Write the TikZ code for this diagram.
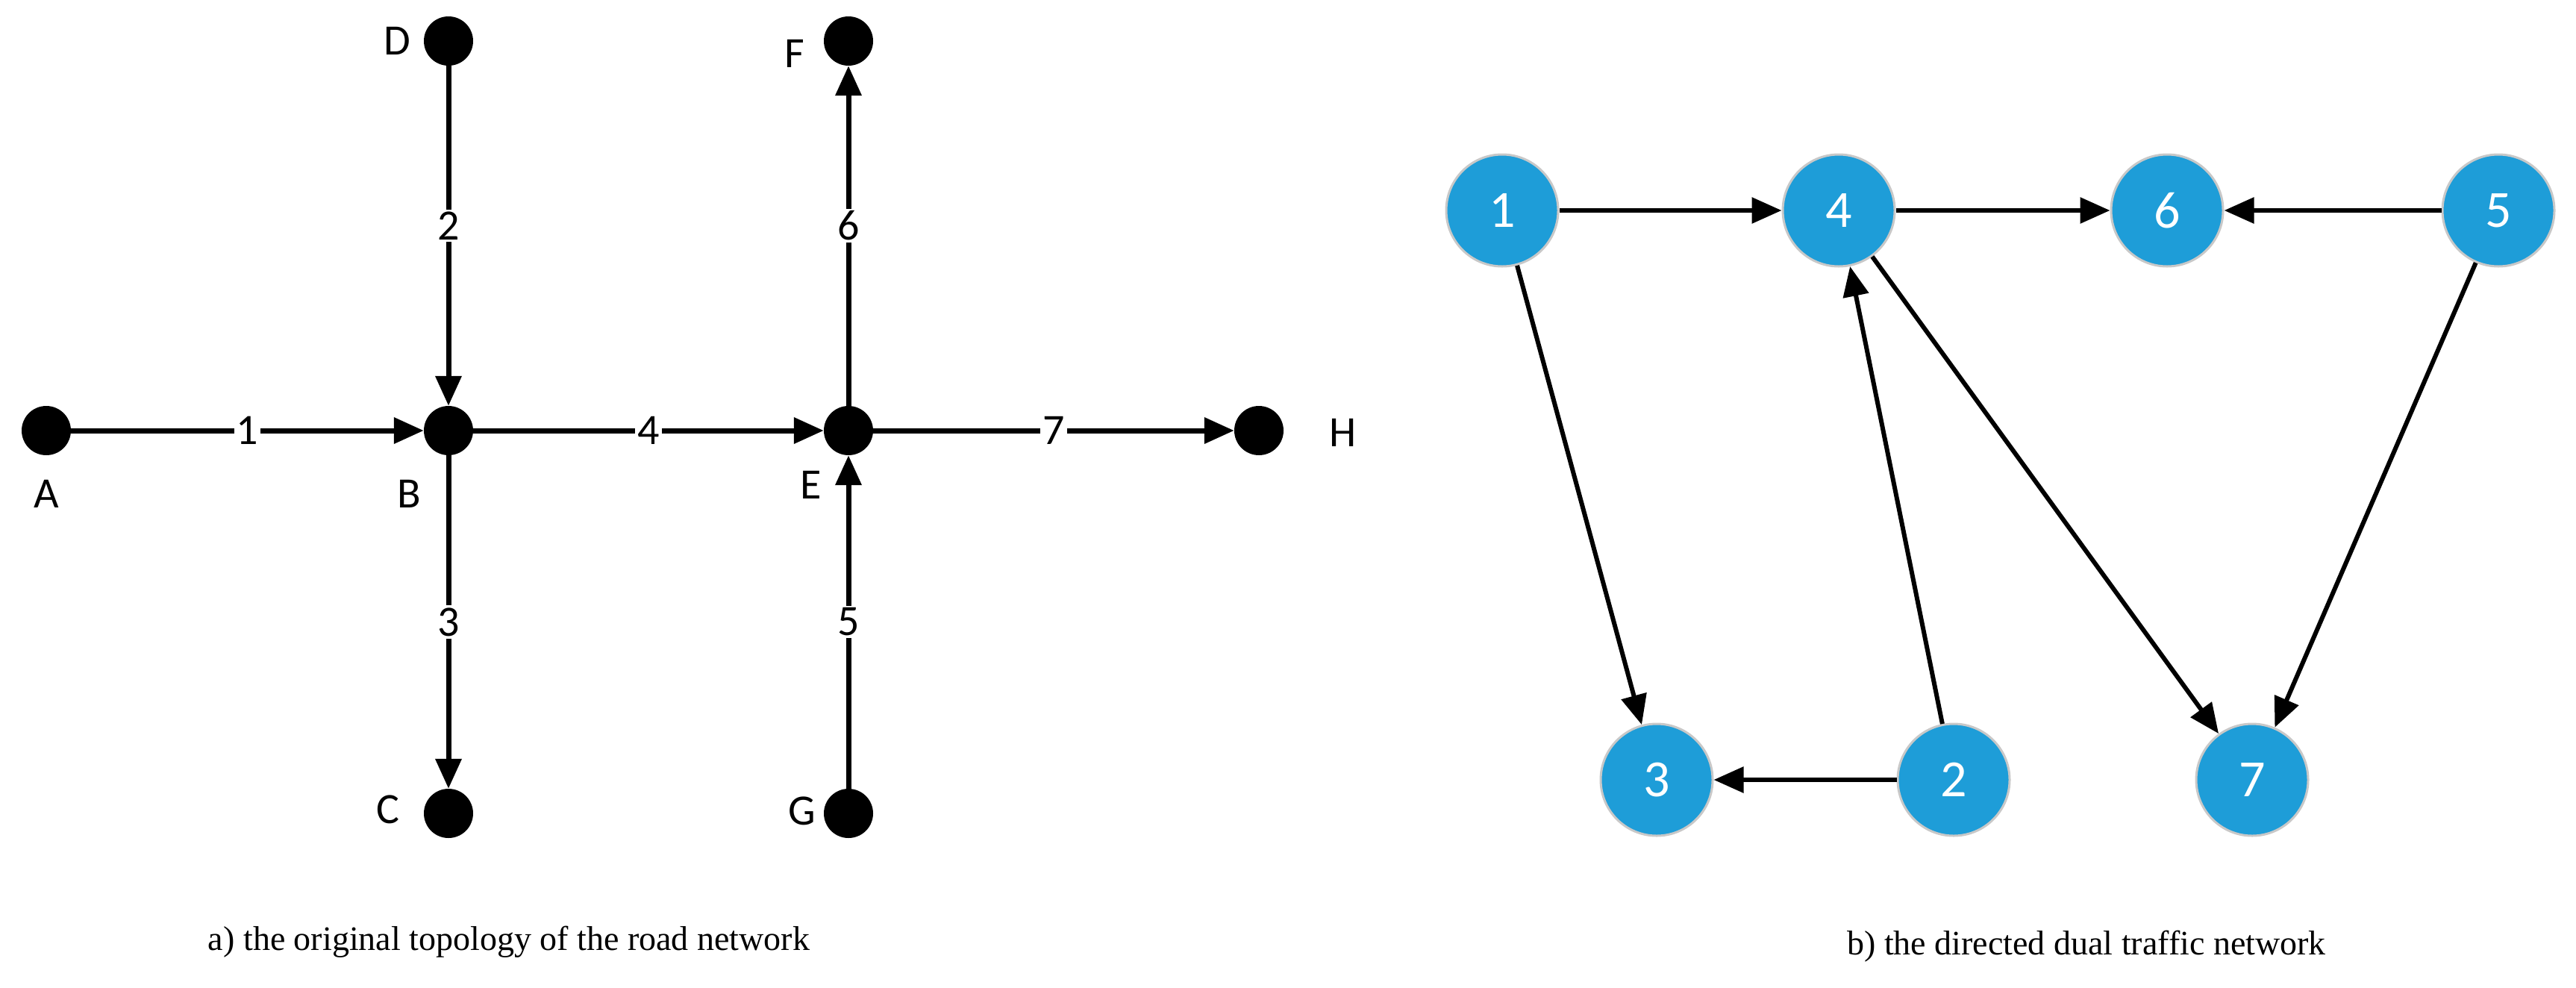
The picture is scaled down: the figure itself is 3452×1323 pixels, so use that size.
\documentclass[tikz,border=0pt]{standalone}
\usepackage{fontspec}
\setmainfont{Liberation Serif}
\newfontfamily\lbl{Carlito}
\usetikzlibrary{arrows.meta}
\begin{document}
\begin{tikzpicture}[x=1pt,y=-1pt,
  dot/.style={circle,fill=black,minimum size=66pt,inner sep=0pt},
  nl/.style={font=\lbl\fontsize{58}{60}\selectfont},
  el/.style={font=\lbl\fontsize{58}{60}\selectfont,fill=white,inner sep=3pt},
  road/.style={line width=7pt,-{Triangle[length=40pt,width=34pt]}},
  bn/.style={circle,fill={rgb,255:red,30;green,157;blue,216},draw={rgb,255:red,200;green,200;blue,200},line width=3pt,minimum width=140pt,minimum height=150pt,inner sep=0pt,text=white,font=\lbl\fontsize{70}{72}\selectfont},
  da/.style={line width=6pt,-{Triangle[length=40pt,width=34pt]}},
  captxt/.style={font=\fontsize{46}{50}\selectfont}]
\useasboundingbox (0,0) rectangle (3452,1323);
% left
\node[dot] (A) at (62,577) {};
\node[dot] (B) at (601,577) {};
\node[dot] (E) at (1137,577) {};
\node[dot] (H) at (1687,577) {};
\node[dot] (D) at (601,55) {};
\node[dot] (C) at (601,1090) {};
\node[dot] (F) at (1137,55) {};
\node[dot] (G) at (1137,1090) {};
\node[nl] (lA) at (62,662) {A};
\node[nl] (lB) at (548,662) {B};
\node[nl] (lE) at (1087,650) {E};
\node[nl] (lH) at (1800,580) {H};
\node[nl] (lD) at (532,55) {D};
\node[nl] (lF) at (1065,72) {F};
\node[nl] (lC) at (520,1085) {C};
\node[nl] (lG) at (1075,1087) {G};
\draw[road] (A) -- node[el]{1} (B);
\draw[road] (D) -- node[el,pos=0.47]{2} (B);
\draw[road] (B) -- node[el]{3} (C);
\draw[road] (B) -- node[el]{4} (E);
\draw[road] (G) -- node[el]{5} (E);
\draw[road] (E) -- node[el,pos=0.53]{6} (F);
\draw[road] (E) -- node[el]{7} (H);
\node[captxt] (ca) at (682,1262) {a) the original topology of the road network};
% right
\node[bn] (n1) at (2013,282) {1};
\node[bn] (n4) at (2464,282) {4};
\node[bn] (n6) at (2904,282) {6};
\node[bn] (n5) at (3348,282) {5};
\node[bn] (n3) at (2220,1045) {3};
\node[bn] (n2) at (2618,1045) {2};
\node[bn] (n7) at (3018,1045) {7};
\draw[da] (n1) -- (n4);
\draw[da] (n4) -- (n6);
\draw[da] (n5) -- (n6);
\draw[da] (n1) -- (n3);
\draw[da] (n2) -- (n4);
\draw[da] (n2) -- (n3);
\draw[da] (n4) -- (n7);
\draw[da] (n5) -- (n7);
\node[captxt] (cb) at (2796,1268) {b) the directed dual traffic network};
\end{tikzpicture}
\end{document}
